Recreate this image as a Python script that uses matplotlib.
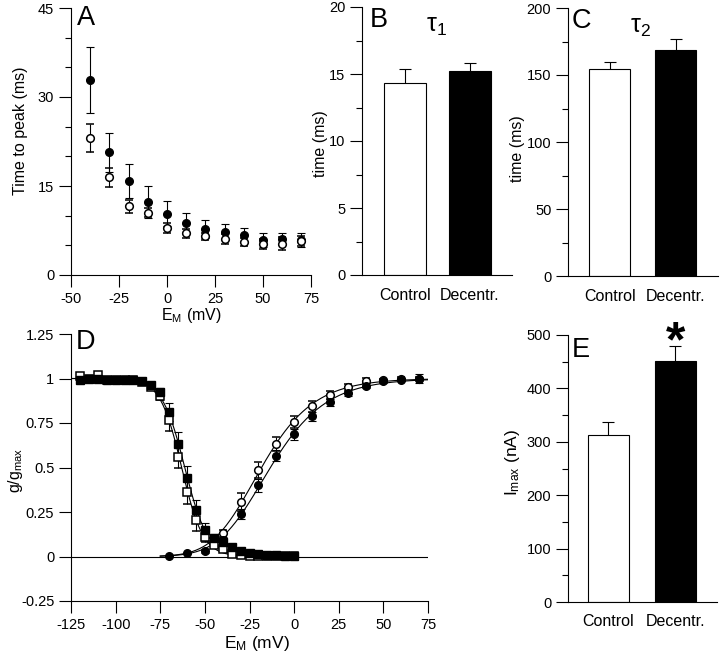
import numpy as np
import matplotlib
matplotlib.use("Agg")
import matplotlib.pyplot as plt
from matplotlib.ticker import MultipleLocator, FormatStrFormatter

plt.rcParams['font.family'] = ['Liberation Sans', 'DejaVu Sans']
plt.rcParams['axes.unicode_minus'] = False
plt.rcParams['mathtext.default'] = 'regular'
plt.rcParams['mathtext.fontset'] = 'stix'

# ---------------- data ----------------
# Panel A: time to peak vs membrane potential
a_v = [-40, -30, -20, -10, 0, 10, 20, 30, 40, 50, 60, 70]
a_decentr = [32.9, 20.7, 15.8, 12.3, 10.3, 8.8, 7.7, 7.3, 6.7, 5.9, 6.0, 5.9]
a_decentr_err = [5.6, 3.3, 2.9, 2.7, 2.1, 1.7, 1.5, 1.3, 1.2, 1.2, 1.0, 1.2]
a_control = [23.1, 16.5, 11.6, 10.5, 7.9, 7.0, 6.5, 6.1, 5.6, 5.2, 5.3, 5.7]
a_control_err = [2.4, 1.6, 1.1, 0.8, 0.9, 0.8, 0.6, 0.8, 0.7, 0.8, 1.1, 0.8]

groups = ["Control", "Decentr."]
# Panel B: tau1
b_vals = [14.3, 15.25]
b_err = [1.05, 0.55]
# Panel C: tau2
c_vals = [154.5, 168.7]
c_err = [5.2, 8.0]
# Panel E: Imax
e_vals = [313, 452]
e_err = [24, 27]

# Panel D: activation (circles)
act_v_dec = [-70, -60, -50, -40, -30, -20, -10, 0, 10, 20, 30, 40, 50, 60, 70]
act_dec = [0.005, 0.017, 0.032, 0.09, 0.238, 0.40, 0.566, 0.687, 0.788, 0.867, 0.92, 0.96, 0.987, 0.994, 0.998]
act_dec_err = [0.005, 0.005, 0.01, 0.02, 0.03, 0.035, 0.03, 0.03, 0.025, 0.02, 0.02, 0.015, 0.01, 0.01, 0.025]
act_v_con = [-40, -30, -20, -10, 0, 10, 20, 30, 40, 50, 60, 70]
act_con = [0.131, 0.305, 0.485, 0.631, 0.757, 0.843, 0.908, 0.95, 0.987, 0.99, 1.0, 1.0]
act_con_err = [0.02, 0.05, 0.045, 0.04, 0.035, 0.03, 0.022, 0.02, 0.015, 0.01, 0.01, 0.01]

# Panel D: inactivation (squares)
inact_v = [-120, -115, -110, -105, -100, -95, -90, -85, -80, -75, -70, -65, -60,
           -55, -50, -45, -40, -35, -30, -25, -20, -15, -10, -5, 0]
inact_dec = [0.99, 1.0, 1.0, 0.99, 0.99, 0.99, 0.99, 0.985, 0.965, 0.925, 0.81, 0.63, 0.44,
             0.26, 0.15, 0.105, 0.08, 0.052, 0.032, 0.02, 0.015, 0.01, 0.006, 0.004, 0.003]
inact_dec_err = [0.005, 0.005, 0.005, 0.005, 0.005, 0.005, 0.005, 0.005, 0.01, 0.02, 0.05, 0.07, 0.07,
                 0.055, 0.04, 0.02, 0.01, 0.005, 0.005, 0.005, 0.005, 0.005, 0.005, 0.005, 0.005]
inact_con = [1.015, 1.0, 1.02, 0.99, 0.99, 0.99, 0.99, 0.98, 0.955, 0.899, 0.765, 0.56, 0.365,
             0.205, 0.11, 0.066, 0.04, 0.015, 0.008, 0.005, 0.003, 0.002, 0.001, 0.001, 0.001]
inact_con_err = [0.005, 0.005, 0.005, 0.005, 0.005, 0.005, 0.005, 0.005, 0.01, 0.02, 0.06, 0.06, 0.07,
                 0.06, 0.03, 0.015, 0.01, 0.005, 0.005, 0.005, 0.005, 0.005, 0.005, 0.005, 0.005]


# ------------- Boltzmann fits (least squares by grid search) -------------
def boltz(v, vh, k, n):
    return (1.0 / (1.0 + np.exp((vh - v) / k))) ** n


def fit(v, y, sign, n):
    v = np.asarray(v, float)
    y = np.asarray(y, float)
    vhs = np.linspace(-90, 10, 401)[:, None, None]
    ks = np.linspace(2, 30, 281)[None, :, None]
    pred = boltz(v[None, None, :], vhs, sign * ks, n)
    sse = ((pred - y[None, None, :]) ** 2).sum(axis=2)
    i, j = np.unravel_index(np.argmin(sse), sse.shape)
    return vhs[i, 0, 0], sign * ks[0, j, 0]


# ---------------- figure ----------------
W, H = 720, 664
fig = plt.figure(figsize=(W / 100, H / 100), dpi=100)


def rect(l, r, t, b):
    return [l / W, 1 - b / H, (r - l) / W, (b - t) / H]


TICK_FS = 10.5
CAT_FS = 11.5
LAB_FS = 11.5
LW = 0.8


def style(ax):
    for s in ('top', 'right'):
        ax.spines[s].set_visible(False)
    for s in ('left', 'bottom'):
        ax.spines[s].set_linewidth(LW)
    ax.tick_params(which='both', direction='out', width=LW, labelsize=TICK_FS, pad=3.5)
    ax.tick_params(which='major', length=8.5)
    ax.tick_params(which='minor', length=4.3)


def letter(ax, s, x, y):
    ax.text(x, y, s, transform=ax.transAxes, fontsize=19.5, va='top', ha='left')


# Panel A
axA = fig.add_axes(rect(71, 311, 8, 275))
style(axA)
eb = dict(capsize=3.2, elinewidth=LW, capthick=LW, ecolor='black', ls='none')
axA.errorbar(a_v, a_decentr, yerr=a_decentr_err, fmt='o', ms=5.5, mfc='black', mec='black', **eb)
axA.errorbar(a_v, a_control, yerr=a_control_err, fmt='o', ms=5.5, mfc='white', mec='black', mew=1.1, **eb)
axA.set_xlim(-50, 75)
axA.set_ylim(0, 45)
axA.xaxis.set_major_locator(MultipleLocator(25))
axA.yaxis.set_major_locator(MultipleLocator(15))
axA.yaxis.set_minor_locator(MultipleLocator(5))
axA.set_ylabel('Time to peak (ms)', fontsize=LAB_FS)
axA.yaxis.set_label_coords(-0.178, 0.54)
axA.set_xlabel('E$_M$ (mV)', fontsize=LAB_FS, va='top')
axA.xaxis.set_label_coords(0.5, -0.115)
letter(axA, 'A', 0.025, 1.01)


def bars(ax, vals, errs, xlim, width):
    x = np.arange(len(vals))
    ax.errorbar(x, vals, yerr=errs, capsize=4, elinewidth=LW, capthick=LW, ecolor='black', ls='none', zorder=1)
    ax.bar(x, vals, width=width, color=['white', 'black'], edgecolor='black', linewidth=LW, zorder=2)
    ax.set_xlim(*xlim)
    ax.set_xticks(x)
    ax.set_xticklabels(groups, fontsize=CAT_FS)
    ax.tick_params(axis='x', length=0, pad=9)


# Panel B
axB = fig.add_axes(rect(362, 512, 7, 275))
style(axB)
bars(axB, b_vals, b_err, (-0.66, 1.646), 0.646)
axB.set_ylim(0, 20)
axB.yaxis.set_major_locator(MultipleLocator(5))
axB.yaxis.set_minor_locator(MultipleLocator(2.5))
axB.set_ylabel('time (ms)', fontsize=LAB_FS)
axB.yaxis.set_label_coords(-0.227, 0.49)
letter(axB, 'B', 0.053, 1.0)
axB.text(0.43, 0.975, r'$\tau_1$', transform=axB.transAxes, fontsize=18, va='top', ha='left')

# Panel C
axC = fig.add_axes(rect(568, 718, 8, 276))
style(axC)
bars(axC, c_vals, c_err, (-0.63, 1.64), 0.62)
axC.set_ylim(0, 200)
axC.yaxis.set_major_locator(MultipleLocator(50))
axC.yaxis.set_minor_locator(MultipleLocator(25))
axC.set_ylabel('time (ms)', fontsize=LAB_FS)
axC.yaxis.set_label_coords(-0.287, 0.475)
letter(axC, 'C', 0.027, 1.0)
axC.text(0.41, 0.975, r'$\tau_2$', transform=axC.transAxes, fontsize=18, va='top', ha='left')

# Panel D
axD = fig.add_axes(rect(71, 428, 334, 601))
style(axD)
axD.axhline(0, color='black', lw=LW, zorder=0)
vh_ac, k_ac = fit(act_v_con, act_con, 1, 3)
vh_ad, k_ad = fit(act_v_dec, act_dec, 1, 3)
vh_ic, k_ic = fit(inact_v, inact_con, -1, 1)
vh_id, k_id = fit(inact_v, inact_dec, -1, 1)
va = np.linspace(-75, 75, 300)
vi = np.linspace(-125, 0, 300)
axD.plot(va, boltz(va, vh_ac, k_ac, 3), color='black', lw=LW)
axD.plot(va, boltz(va, vh_ad, k_ad, 3), color='black', lw=LW)
axD.plot(vi, boltz(vi, vh_ic, k_ic, 1), color='black', lw=LW)
axD.plot(vi, boltz(vi, vh_id, k_id, 1), color='black', lw=LW)
ebd = dict(capsize=3, elinewidth=LW, capthick=LW, ecolor='black', ls='none')
axD.errorbar(inact_v, inact_con, yerr=inact_con_err, fmt='s', ms=5.5, mfc='white', mec='black', mew=1.1, **ebd)
axD.errorbar(inact_v, inact_dec, yerr=inact_dec_err, fmt='s', ms=5.5, mfc='black', mec='black', **ebd)
axD.errorbar(act_v_con, act_con, yerr=act_con_err, fmt='o', ms=5.5, mfc='white', mec='black', mew=1.1, **ebd)
axD.errorbar(act_v_dec, act_dec, yerr=act_dec_err, fmt='o', ms=5.5, mfc='black', mec='black', **ebd)
axD.set_xlim(-125, 75)
axD.set_ylim(-0.25, 1.25)
axD.xaxis.set_major_locator(MultipleLocator(25))
axD.yaxis.set_major_locator(MultipleLocator(0.25))
axD.yaxis.set_major_formatter(FormatStrFormatter('%g'))
axD.set_xlabel('E$_M$ (mV)', fontsize=LAB_FS + 1, va='top')
axD.xaxis.set_label_coords(0.52, -0.125)
axD.set_ylabel('g/g$_{max}$', fontsize=LAB_FS)
axD.yaxis.set_label_coords(-0.129, 0.49)
letter(axD, 'D', 0.014, 1.019)

# Panel E
axE = fig.add_axes(rect(568, 717, 335, 602))
style(axE)
bars(axE, e_vals, e_err, (-0.604, 1.62), 0.62)
axE.set_ylim(0, 500)
axE.yaxis.set_major_locator(MultipleLocator(100))
axE.yaxis.set_minor_locator(MultipleLocator(50))
axE.set_ylabel('I$_{max}$ (nA)', fontsize=LAB_FS + 1)
axE.yaxis.set_label_coords(-0.309, 0.524)
letter(axE, 'E', 0.027, 0.993)
axE.text(1, e_vals[1] + e_err[1] + 5, '*', fontsize=36, fontweight='bold', ha='center', va='center', clip_on=False)

fig.savefig('out.png', dpi=100)
